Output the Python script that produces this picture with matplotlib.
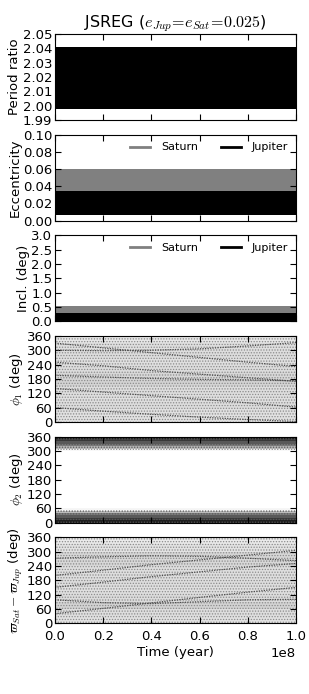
import numpy as np
import matplotlib
matplotlib.use("Agg")
import matplotlib.pyplot as plt

plt.rcParams["font.family"] = ["DejaVu Sans"]
plt.rcParams["mathtext.fontset"] = "cm"
plt.rcParams["hatch.linewidth"] = 0.6

# time axis of the envelopes (years)
t_env = [0.0, 0.25e8, 0.5e8, 0.75e8, 1.0e8]

# period ratio envelope
pr_lo = [1.9975, 1.9975, 1.9975, 1.9975, 1.9975]
pr_hi = [2.0412, 2.0412, 2.0412, 2.0412, 2.0412]

# eccentricity envelopes
ecc_sat_lo = [0.010, 0.010, 0.010, 0.010, 0.010]
ecc_sat_hi = [0.0595, 0.0595, 0.0595, 0.0595, 0.0595]
ecc_jup_lo = [0.006, 0.006, 0.006, 0.006, 0.006]
ecc_jup_hi = [0.035, 0.035, 0.035, 0.035, 0.035]

# inclination envelopes (deg)
inc_sat_lo = [0.05, 0.05, 0.05, 0.05, 0.05]
inc_sat_hi = [0.53, 0.53, 0.53, 0.53, 0.53]
inc_jup_lo = [0.0, 0.0, 0.0, 0.0, 0.0]
inc_jup_hi = [0.29, 0.29, 0.29, 0.29, 0.29]

# point density of the angle panels, per angle bin (0..1)
ang_edges_30 = [0, 30, 60, 90, 120, 150, 180, 210, 240, 270, 300, 330, 360]
phi1_density = [0.20, 0.22, 0.23, 0.22, 0.23, 0.28, 0.26, 0.23, 0.22, 0.23, 0.22, 0.18]
varpi_density = [0.20, 0.23, 0.28, 0.24, 0.22, 0.23, 0.23, 0.22, 0.26, 0.26, 0.20, 0.16]

ang_edges_10 = list(range(0, 370, 10))
phi2_density = [0.90, 0.82, 0.72, 0.58, 0.38, 0.08] + [0.0] * 24 + \
               [0.06, 0.40, 0.60, 0.72, 0.82, 0.90]

# dark streaks in the angle panels: (times, angles)
t_str = [0.0, 0.2e8, 0.4e8, 0.6e8, 0.8e8, 1.0e8]
phi1_streaks = [
    [195, 188, 182, 178, 176, 172],
    [300, 298, 300, 306, 318, 332],
    [250, 235, 215, 200, 185, 170],
    [330, 310, 290, 270, 250, 232],
    [140, 125, 110, 95, 80, 62],
    [60, 45, 32, 20, 10, 2],
]
varpi_streaks = [
    [272, 278, 282, 280, 272, 262],
    [98, 86, 82, 90, 98, 100],
    [150, 172, 195, 215, 235, 250],
    [40, 62, 85, 108, 130, 150],
    [200, 222, 245, 265, 285, 305],
]

ylabels = ["Period ratio", "Eccentricity", "Incl. (deg)",
           r"$\phi_1$ (deg)", r"$\phi_2$ (deg)",
           r"$\varpi_{Sat}-\varpi_{Jup}$ (deg)"]

fig = plt.figure(figsize=(3.09, 6.94), dpi=100)
gs = fig.add_gridspec(6, 1, left=0.178, right=0.958, top=0.951,
                      bottom=0.102, hspace=0.17)
axes = [fig.add_subplot(gs[i]) for i in range(6)]

t_edges = [0.0, 1.0e8]

# panel 1: period ratio
ax = axes[0]
ax.fill_between(t_env, pr_lo, pr_hi, color="black", lw=0)
ax.set_ylim(1.99, 2.05)
ax.set_yticks([1.99, 2.00, 2.01, 2.02, 2.03, 2.04, 2.05])
ax.yaxis.set_major_formatter(matplotlib.ticker.FormatStrFormatter("%.2f"))
ax.set_title(r"JSREG ($e_{Jup}\!=\!e_{Sat}\!=\!0.025$)", fontsize=11.5, pad=2)

# panel 2: eccentricity
ax = axes[1]
ax.fill_between(t_env, ecc_sat_lo, ecc_sat_hi, color="0.5", lw=0)
ax.fill_between(t_env, ecc_jup_lo, ecc_jup_hi, color="black", lw=0)
ax.plot([], [], color="0.5", lw=2, label="Saturn")
ax.plot([], [], color="black", lw=2, label="Jupiter")
ax.set_ylim(0, 0.10)
ax.set_yticks([0, 0.02, 0.04, 0.06, 0.08, 0.10])
ax.yaxis.set_major_formatter(matplotlib.ticker.FormatStrFormatter("%.2f"))

# panel 3: inclination
ax = axes[2]
ax.fill_between(t_env, inc_sat_lo, inc_sat_hi, color="0.5", lw=0)
ax.fill_between(t_env, inc_jup_lo, inc_jup_hi, color="black", lw=0)
ax.plot([], [], color="0.5", lw=2, label="Saturn")
ax.plot([], [], color="black", lw=2, label="Jupiter")
ax.set_ylim(0, 3.0)
ax.set_yticks([0, 0.5, 1.0, 1.5, 2.0, 2.5, 3.0])
ax.yaxis.set_major_formatter(matplotlib.ticker.FormatStrFormatter("%.1f"))

for ax in axes[1:3]:
    ax.legend(loc="upper right", ncol=2, frameon=False, fontsize=8,
              handlelength=1.8, columnspacing=2.0, borderaxespad=0.3,
              handletextpad=1.0)

# panels 4-6: angles
def draw_angles(ax, edges, density, streaks, stipple=True):
    ax.pcolormesh(t_edges, edges, np.array(density)[:, None],
                  cmap="Greys", vmin=0, vmax=1, shading="flat")
    if stipple:
        ax.fill_between(t_edges, 0, 360, facecolor="none", edgecolor="0.55",
                        hatch="......", lw=0)
    else:
        # stippled texture only inside the libration bands
        ax.fill_between(t_edges, 0, 55, facecolor="none", edgecolor="0.35",
                        hatch="......", lw=0)
        ax.fill_between(t_edges, 305, 360, facecolor="none", edgecolor="0.35",
                        hatch="......", lw=0)
    for s in streaks:
        ax.plot(t_str, s, color="0.3", lw=0.9, ls=(0, (1, 1)))

draw_angles(axes[3], ang_edges_30, phi1_density, phi1_streaks)
draw_angles(axes[4], ang_edges_10, phi2_density, [], stipple=False)
draw_angles(axes[5], ang_edges_30, varpi_density, varpi_streaks)
for ax in axes[3:]:
    ax.set_ylim(0, 360)
    ax.set_yticks(range(0, 361, 60))

for i, ax in enumerate(axes):
    ax.set_xlim(0, 1.0e8)
    ax.set_xticks([0, 0.2e8, 0.4e8, 0.6e8, 0.8e8, 1.0e8])
    ax.tick_params(direction="in", top=True, right=True, labelsize=9.5,
                   length=4, pad=2)
    ax.set_ylabel(ylabels[i], fontsize=9.5, labelpad=1)
    if i < 5:
        ax.tick_params(labelbottom=False)

axes[5].tick_params(axis="x", pad=5)
axes[5].set_xlabel("Time (year)", fontsize=9.5, labelpad=2)
axes[5].xaxis.get_offset_text().set_fontsize(9.5)

fig.savefig("out.png", dpi=100, facecolor="white")
